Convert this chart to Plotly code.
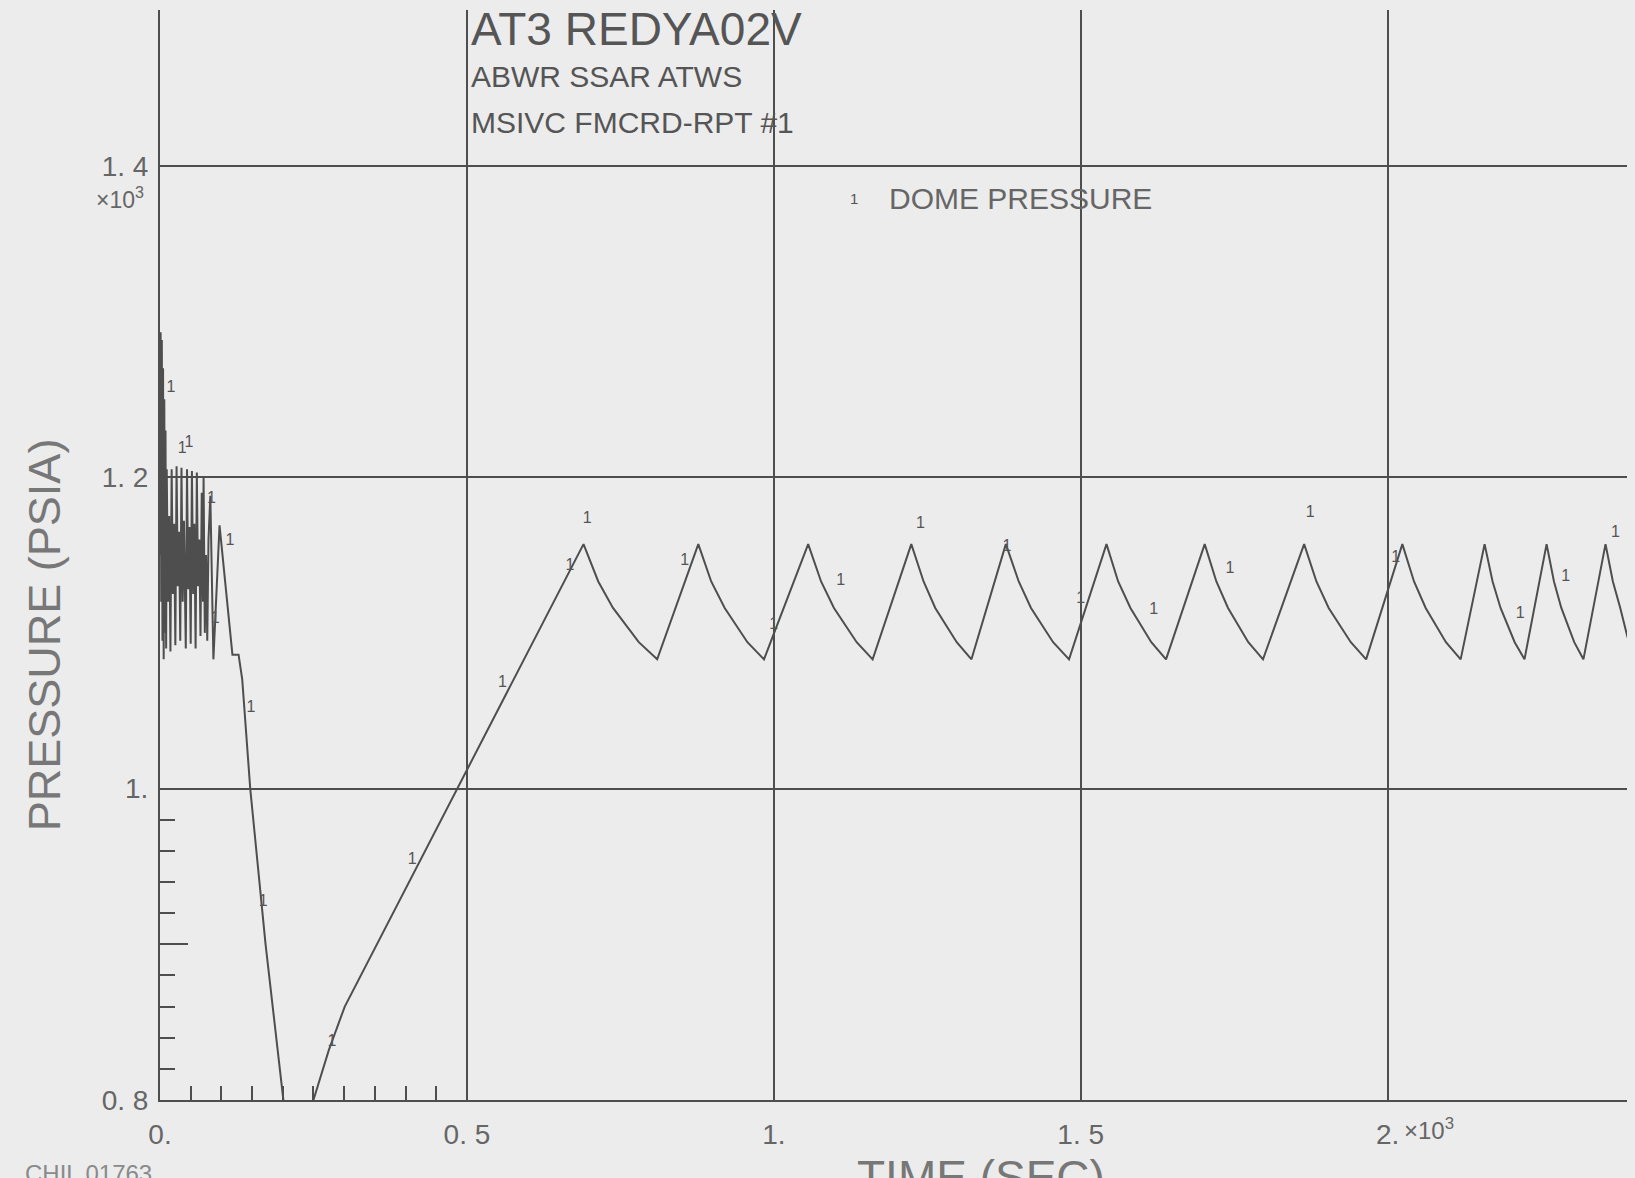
import plotly.graph_objects as go

# ---------------- data ----------------
# early dense oscillation, drop and recovery
early_x = [0.000, 0.001, 0.002, 0.003, 0.004, 0.005, 0.006, 0.007, 0.008, 0.009,
           0.010, 0.011, 0.013, 0.015, 0.017, 0.019, 0.021, 0.023, 0.025, 0.027,
           0.029, 0.031, 0.033, 0.035, 0.037, 0.039, 0.042, 0.044, 0.046, 0.048,
           0.050, 0.052, 0.054, 0.056, 0.058, 0.060, 0.062, 0.064, 0.066, 0.068,
           0.070, 0.071, 0.073, 0.075, 0.077, 0.079, 0.082, 0.084, 0.087, 0.097,
           0.118, 0.128, 0.134, 0.147, 0.172, 0.201, 0.213, 0.250, 0.275, 0.301]
early_y = [1.150, 1.293, 1.120, 1.288, 1.095, 1.270, 1.083, 1.250, 1.100, 1.230,
           1.090, 1.205, 1.120, 1.175, 1.088, 1.205, 1.125, 1.170, 1.092, 1.207,
           1.130, 1.165, 1.095, 1.206, 1.120, 1.172, 1.090, 1.205, 1.128, 1.168,
           1.093, 1.204, 1.125, 1.170, 1.090, 1.203, 1.130, 1.160, 1.098, 1.190,
           1.120, 1.200, 1.100, 1.150, 1.095, 1.160, 1.188, 1.140, 1.083, 1.169,
           1.086, 1.086, 1.070, 1.000, 0.900, 0.800, 0.756, 0.800, 0.832, 0.860]

# sawtooth (relief-valve cycling) part
saw_x = [0.690, 0.714, 0.738, 0.780, 0.810,
         0.877, 0.898, 0.920, 0.957, 0.984,
         1.056, 1.077, 1.098, 1.135, 1.161,
         1.224, 1.244, 1.263, 1.298, 1.322,
         1.378, 1.399, 1.419, 1.455, 1.481,
         1.542, 1.561, 1.581, 1.615, 1.639,
         1.702, 1.721, 1.740, 1.773, 1.797,
         1.864, 1.884, 1.904, 1.940, 1.965,
         2.024, 2.043, 2.062, 2.095, 2.119,
         2.158, 2.171, 2.184, 2.207, 2.223,
         2.259, 2.271, 2.283, 2.304, 2.319,
         2.355, 2.367, 2.379, 2.391]
saw_y = [1.157, 1.133, 1.116, 1.094, 1.083,
         1.157, 1.133, 1.116, 1.094, 1.083,
         1.157, 1.133, 1.116, 1.094, 1.083,
         1.157, 1.133, 1.116, 1.094, 1.083,
         1.157, 1.133, 1.116, 1.094, 1.083,
         1.157, 1.133, 1.116, 1.094, 1.083,
         1.157, 1.133, 1.116, 1.094, 1.083,
         1.157, 1.133, 1.116, 1.094, 1.083,
         1.157, 1.133, 1.116, 1.094, 1.083,
         1.157, 1.133, 1.116, 1.094, 1.083,
         1.157, 1.133, 1.116, 1.094, 1.083,
         1.157, 1.133, 1.116, 1.097]

# curve identifier "1" markers along the line
label_x = [0.018, 0.036, 0.047, 0.084, 0.090, 0.114, 0.148, 0.168, 0.280, 0.411,
           0.558, 0.668, 0.696, 0.855, 1.000, 1.109, 1.239, 1.380, 1.500, 1.619,
           1.743, 1.874, 2.013, 2.216, 2.290, 2.371]
label_y = [1.257, 1.218, 1.222, 1.186, 1.109, 1.159, 1.052, 0.927, 0.837, 0.954,
           1.068, 1.143, 1.173, 1.146, 1.105, 1.133, 1.170, 1.155, 1.122, 1.115,
           1.141, 1.177, 1.148, 1.112, 1.136, 1.164]

x_ticks = [0.0, 0.5, 1.0, 1.5, 2.0]
x_ticktext = ["0.", "0. 5", "1.", "1. 5", "2."]
y_ticks = [0.8, 1.0, 1.2, 1.4]
y_ticktext = ["0. 8", "1.", "1. 2", "1. 4"]
x_minor = [0.05, 0.10, 0.15, 0.20, 0.25, 0.30, 0.35, 0.40, 0.45]
y_minor = [0.82, 0.84, 0.86, 0.88, 0.92, 0.94, 0.96, 0.98]
y_minor_long = [0.9]

X_RANGE = [0, 2.39]
Y_RANGE = [0.8, 1.5]

# ---------------- styling ----------------
BG = "#ececec"
LINE = "#4e4e4e"
TXT = "#666666"
FONT = "Liberation Sans, Arial, sans-serif"

fig = go.Figure()

fig.add_trace(go.Scatter(
    x=early_x + saw_x, y=early_y + saw_y, mode="lines",
    line=dict(color=LINE, width=2), showlegend=False, hoverinfo="skip"))

fig.add_trace(go.Scatter(
    x=label_x, y=label_y, mode="text", text=["1"] * len(label_x),
    textfont=dict(family=FONT, size=16, color="#555555"),
    xaxis="x", yaxis="y2", showlegend=False, hoverinfo="skip"))

fig.update_layout(
    width=1635, height=1178,
    margin=dict(l=160, r=8, t=10, b=78),
    paper_bgcolor=BG, plot_bgcolor=BG,
    font=dict(family=FONT, color=TXT),
    xaxis=dict(
        range=X_RANGE, tickmode="array", tickvals=x_ticks, ticktext=x_ticktext,
        showgrid=True, gridcolor=LINE, gridwidth=2, zeroline=False,
        showline=True, linecolor=LINE, linewidth=2, ticks="",
        ticklabelstandoff=8, tickfont=dict(size=28, color=TXT),
        minor=dict(tickmode="array", tickvals=x_minor, ticks="inside",
                   ticklen=14, tickwidth=2, tickcolor=LINE, showgrid=False)),
    yaxis=dict(
        range=Y_RANGE, tickmode="array", tickvals=y_ticks, ticktext=y_ticktext,
        showgrid=True, gridcolor=LINE, gridwidth=2, zeroline=False,
        showline=True, linecolor=LINE, linewidth=2, ticks="",
        ticklabelstandoff=4, tickfont=dict(size=28, color=TXT),
        minor=dict(tickmode="array", tickvals=y_minor, ticks="inside",
                   ticklen=15, tickwidth=2, tickcolor=LINE, showgrid=False)),
    yaxis2=dict(
        range=Y_RANGE, overlaying="y", anchor="x", side="left",
        tickmode="array", tickvals=y_minor_long, ticks="inside", ticklen=28,
        tickwidth=2, tickcolor=LINE, showticklabels=False, showgrid=False,
        zeroline=False, showline=False),
)

ann = []
# title block
ann.append(dict(x=0.503, y=1.488, xref="x", yref="y", text="AT3 REDYA02V",
                showarrow=False, xanchor="left", yanchor="middle",
                font=dict(size=46, color="#555555")))
ann.append(dict(x=0.503, y=1.4575, xref="x", yref="y", text="ABWR SSAR ATWS",
                showarrow=False, xanchor="left", yanchor="middle",
                font=dict(size=30, color="#555555")))
ann.append(dict(x=0.503, y=1.428, xref="x", yref="y", text="MSIVC FMCRD-RPT #1",
                showarrow=False, xanchor="left", yanchor="middle",
                font=dict(size=30, color="#555555")))
# legend
ann.append(dict(x=1.130, y=1.379, xref="x", yref="y", text="1",
                showarrow=False, xanchor="center", yanchor="middle",
                font=dict(size=15, color="#555555")))
ann.append(dict(x=1.185, y=1.379, xref="x", yref="y", text="DOME PRESSURE",
                showarrow=False, xanchor="left", yanchor="middle",
                font=dict(size=30, color=TXT)))
# exponent markers
ann.append(dict(x=-0.0095, y=1.3795, xref="paper", yref="y",
                text="×10<sup>3</sup>", showarrow=False, xanchor="right",
                yanchor="middle", font=dict(size=23, color=TXT)))
ann.append(dict(x=2.024, y=-0.027, xref="x", yref="paper",
                text="×10<sup>3</sup>", showarrow=False, xanchor="left",
                yanchor="middle", font=dict(size=24, color=TXT)))
# axis titles
ann.append(dict(x=-0.079, y=0.4265, xref="paper", yref="paper",
                text="PRESSURE (PSIA)", textangle=-90, showarrow=False,
                xanchor="center", yanchor="middle",
                font=dict(size=45, color="#777777")))
ann.append(dict(x=1.337, y=-0.045, xref="x", yref="paper",
                text="TIME (SEC)", showarrow=False,
                xanchor="center", yanchor="top",
                font=dict(size=46, color="#777777")))
ann.append(dict(x=-0.049, y=-0.053, xref="paper", yref="paper",
                text="CHIL 01763", showarrow=False,
                xanchor="center", yanchor="top",
                font=dict(size=24, color="#8a8a8a")))
fig.update_layout(annotations=ann)

fig.write_html("out.html")
